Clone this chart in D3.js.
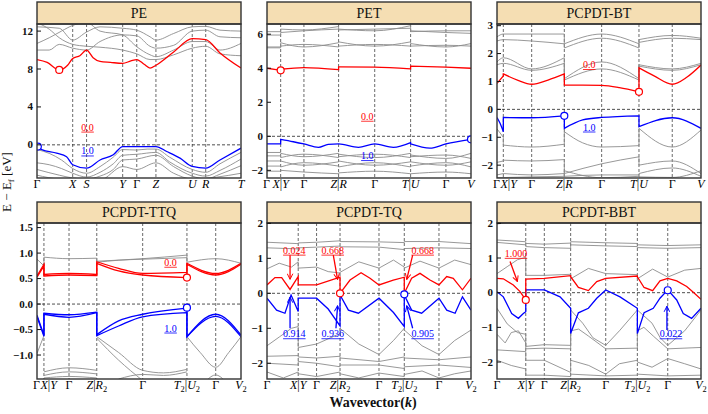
<!DOCTYPE html>
<html><head><meta charset="utf-8">
<script src="https://cdn.jsdelivr.net/npm/d3@7"></script>
<style>body{margin:0;background:#fff}</style>
</head><body><svg id="c" width="708" height="414" xmlns="http://www.w3.org/2000/svg"></svg>
<script>
// ---------------- DATA ----------------
const titles = ["PE","PET","PCPDT-BT","PCPDT-TTQ","PCPDT-TQ","PCPDT-BBT"];

// PE
const peK = [0,0.175,0.243,0.420,0.489,0.583,0.761,0.827,1];
const peKLab = ["Γ","X","S","Y","Γ","Z","U","R","T"];
const peYDom = [-3.5,12.75];
const peYTicks = [0,4,8,12];
const peCB = [[0,9.0],[0.05,8.7],[0.109,7.9],[0.15,8.4],[0.175,9.1],[0.21,9.4],[0.243,10.0],[0.275,9.2],[0.309,8.8],[0.36,8.7],[0.42,8.6],[0.46,8.85],[0.489,9.0],[0.525,8.5],[0.554,8.1],[0.583,8.4],[0.67,9.8],[0.761,11.2],[0.827,11.1],[0.897,9.7],[1,8.1]];
const peVB = [[0,-0.18],[0.023,-0.5],[0.096,-0.88],[0.145,-1.25],[0.175,-2.1],[0.243,-2.46],[0.309,-1.6],[0.374,-1.05],[0.42,-0.18],[0.489,-0.18],[0.583,-0.18],[0.636,-0.7],[0.701,-1.4],[0.761,-2.28],[0.827,-2.46],[0.897,-1.6],[1,-0.35]];
const peGray = [
 [[0,12.45],[0.109,12.3],[0.175,11.05],[0.243,11.9],[0.309,12.45],[0.42,12.3],[0.489,12.1],[0.554,11.4],[0.583,11.05],[0.67,11.75],[0.761,12.45],[0.827,12.5],[0.897,12.1],[1,12.0]],
 [[0,10.7],[0.06,11.3],[0.12,12.0],[0.175,12.6],[0.243,12.9],[0.309,12.0],[0.42,11.6],[0.489,10.35],[0.554,9.5],[0.583,9.3],[0.67,10.0],[0.761,10.9],[0.827,10.9],[0.897,10.0],[1,10.7]],
 [[0,10.0],[0.06,10.0],[0.109,10.6],[0.175,10.2],[0.243,10.0],[0.309,10.9],[0.42,11.6],[0.489,11.5],[0.554,10.4],[0.583,10.2],[0.67,10.5],[0.761,12.0],[0.827,12.1],[0.897,11.4],[1,11.3]],
 [[0,12.9],[0.06,12.2],[0.109,11.3],[0.175,10.6],[0.243,10.4],[0.309,10.3],[0.42,10.0],[0.489,9.6],[0.554,9.0],[0.583,9.0],[0.67,9.5],[0.761,10.2],[0.827,10.4],[0.897,9.6],[1,9.4]],
 [[0,-0.5],[0.06,-0.9],[0.12,-1.6],[0.175,-2.5],[0.243,-3.0],[0.309,-2.3],[0.374,-1.3],[0.42,-0.5],[0.489,-0.55],[0.54,-0.45],[0.583,-0.45],[0.65,-1.3],[0.761,-2.6],[0.827,-2.9],[0.897,-2.0],[1,-0.8]],
 [[0,-1.9],[0.06,-2.1],[0.12,-2.5],[0.175,-3.0],[0.243,-3.4],[0.309,-2.9],[0.374,-2.0],[0.42,-1.1],[0.489,-1.0],[0.583,-0.8],[0.65,-1.8],[0.761,-3.0],[0.827,-3.3],[0.897,-2.7],[1,-1.5]],
 [[0,-2.6],[0.109,-3.2],[0.175,-3.5],[0.243,-3.6],[0.309,-3.3],[0.374,-2.6],[0.42,-1.6],[0.489,-1.5],[0.583,-1.1],[0.67,-2.3],[0.761,-3.3],[0.827,-3.6],[0.897,-3.1],[1,-2.2]],
 [[0,-3.2],[0.109,-3.6],[0.309,-3.7],[0.42,-2.3],[0.489,-2.6],[0.583,-1.9],[0.67,-3.0],[0.761,-3.6],[1,-3.0]]
];
const peCirc = [[0.109,7.9],[0.004,-0.18]];
const peGapLab = [[0.248,1.82],[0.248,-0.7]];

// PET
const petK = [0,0.067,0.181,0.351,0.528,0.704,0.877,1];
const petKLab = ["Γ","X|Y","Γ","Z|R","Γ","T|U","Γ","V"];
const petYDom = [-2.45,6.6];
const petYTicks = [-2,0,2,4,6];
const petCB = [[0,4.0],[0.067,3.88],[0.067,3.94],[0.181,4.04],[0.351,3.92],[0.351,4.08],[0.528,4.06],[0.704,3.96],[0.704,4.12],[0.877,4.06],[1,4.0]];
const petVB = [[0,-0.45],[0.067,-0.45],[0.067,-0.18],[0.129,-0.32],[0.181,-0.45],[0.252,-0.65],[0.30,-0.48],[0.351,-0.45],[0.448,-0.65],[0.528,-0.45],[0.619,-0.65],[0.704,-0.37],[0.704,-0.45],[0.799,-0.7],[0.877,-0.45],[1,-0.18]];
const petGray = [
 [[0,6.15],[0.067,6.15],[0.067,6.3],[0.181,6.25],[0.351,6.45],[0.351,6.3],[0.528,6.2],[0.704,6.5],[0.704,6.2],[0.877,6.1],[1,6.05]],
 [[0,5.95],[0.067,5.95],[0.067,6.1],[0.181,6.2],[0.351,6.3],[0.351,6.25],[0.528,6.3],[0.704,6.35],[0.704,6.15],[0.877,6.2],[1,6.2]],
 [[0,5.25],[0.067,5.25],[0.067,5.5],[0.181,5.25],[0.351,5.5],[0.351,5.55],[0.528,5.3],[0.704,5.55],[0.704,5.45],[0.877,5.25],[1,5.45]],
 [[0,5.2],[0.067,5.2],[0.067,5.3],[0.181,5.4],[0.351,5.25],[0.351,5.3],[0.528,5.4],[0.704,5.3],[0.704,5.3],[0.877,5.35],[1,5.3]],
 [[0,-0.95],[0.067,-0.95],[0.067,-1.0],[0.181,-1.2],[0.351,-1.0],[0.351,-1.05],[0.528,-1.25],[0.704,-1.0],[0.704,-1.1],[0.877,-1.3],[1,-1.0]],
 [[0,-1.15],[0.067,-1.15],[0.067,-1.25],[0.181,-1.05],[0.351,-1.25],[0.351,-1.2],[0.528,-1.05],[0.704,-1.25],[0.704,-1.2],[0.877,-1.1],[1,-1.3]],
 [[0,-1.45],[0.067,-1.45],[0.067,-1.45],[0.181,-1.7],[0.351,-1.5],[0.351,-1.45],[0.528,-1.7],[0.704,-1.5],[0.704,-1.5],[0.877,-1.7],[1,-1.5]],
 [[0,-1.75],[0.067,-1.75],[0.067,-1.8],[0.181,-1.55],[0.351,-1.75],[0.351,-1.8],[0.528,-1.55],[0.704,-1.8],[0.704,-1.75],[0.877,-1.55],[1,-1.8]],
 [[0,-2.05],[0.067,-2.05],[0.067,-2.0],[0.181,-2.1],[0.351,-2.2],[0.351,-2.15],[0.528,-2.05],[0.704,-2.2],[0.704,-2.2],[0.877,-2.1],[1,-2.2]]
];
const petCirc = [[0.067,3.88],[1,-0.18]];
const petGapLab = [[0.492,1.15],[0.492,-1.16]];

// PCPDT-BT
const btK = [0,0.031,0.170,0.330,0.513,0.696,0.859,1];
const btKLab = ["Γ","X|Y","Γ","Z|R","Γ","T|U","Γ","V"];
const btYDom = [-2.46,3.06];
const btYTicks = [-2,-1,0,1,2,3];
const btCB = [[0,0.93],[0.031,1.2],[0.031,1.27],[0.10,1.05],[0.170,0.9],[0.25,1.05],[0.330,1.27],[0.330,0.87],[0.42,0.87],[0.513,0.86],[0.60,0.78],[0.696,0.63],[0.696,1.49],[0.77,1.2],[0.859,0.9],[0.93,1.15],[1,1.59]];
const btVB = [[0,-0.29],[0.015,-0.5],[0.031,-0.8],[0.031,-0.29],[0.170,-0.3],[0.330,-0.23],[0.330,-0.68],[0.42,-0.38],[0.513,-0.29],[0.696,-0.23],[0.696,-0.62],[0.859,-0.3],[1,-0.68]];
const btGray = [
 [[0,2.6],[0.031,2.7],[0.170,2.7],[0.330,2.7],[0.330,2.35],[0.513,2.7],[0.696,2.35],[0.696,2.5],[0.859,2.65],[1,2.55]],
 [[0,2.45],[0.031,2.5],[0.170,2.45],[0.330,2.35],[0.330,2.2],[0.513,2.55],[0.696,2.2],[0.696,2.4],[0.859,2.55],[1,2.5]],
 [[0,1.7],[0.031,1.85],[0.170,1.45],[0.330,1.85],[0.330,1.1],[0.513,1.7],[0.696,1.1],[0.696,1.6],[0.859,1.45],[1,1.65]],
 [[0,1.6],[0.031,1.65],[0.170,1.4],[0.330,1.65],[0.330,1.05],[0.513,1.45],[0.696,1.05],[0.696,1.55],[0.859,1.4],[1,1.6]],
 [[0,-0.7],[0.031,-1.0],[0.031,-1.28],[0.170,-1.35],[0.330,-1.25],[0.330,-0.8],[0.42,-1.2],[0.513,-1.35],[0.696,-1.3],[0.696,-0.68],[0.859,-1.35],[1,-0.74]],
 [[0,-1.9],[0.031,-1.85],[0.031,-1.82],[0.170,-1.85],[0.330,-1.8],[0.330,-2.3],[0.513,-1.95],[0.696,-1.7],[0.696,-2.0],[0.859,-1.85],[1,-2.3]],
 [[0,-2.35],[0.031,-2.3],[0.031,-2.3],[0.170,-2.35],[0.330,-2.3],[0.330,-2.4],[0.513,-2.35],[0.696,-2.35],[0.696,-2.3],[0.859,-2.1],[1,-2.4]],
 [[0,-2.45],[0.170,-2.42],[0.330,-2.4],[0.330,-2.2],[0.513,-2.45],[0.696,-2.4],[0.696,-2.42],[0.859,-2.44],[1,-2.2]]
];
const btCirc = [[0.696,0.63],[0.330,-0.23]];
const btGapLab = [[0.452,1.59],[0.452,-0.65]];

// PCPDT-TTQ
const ttqK = [0,0.034,0.157,0.293,0.518,0.735,0.876,1];
const ttqKLab = ["Γ","X|Y","Γ","Z|R_2","Γ","T_2|U_2","Γ","V_2"];
const ttqYDom = [-1.47,1.59];
const ttqYTicks = [-1.0,-0.5,0.0,0.5,1.0,1.5];
const ttqCB1 = [[0,0.55],[0.034,0.78],[0.034,0.58],[0.157,0.6],[0.293,0.58],[0.293,0.83],[0.40,0.7],[0.518,0.6],[0.735,0.62],[0.735,0.8],[0.876,0.6],[1,0.8]];
const ttqCB2 = [[0,0.53],[0.034,0.75],[0.034,0.55],[0.157,0.57],[0.293,0.56],[0.293,0.80],[0.40,0.65],[0.518,0.57],[0.735,0.52],[0.735,0.78],[0.876,0.57],[1,0.78]];
const ttqVB1 = [[0,-0.22],[0.034,-0.61],[0.034,-0.18],[0.157,-0.21],[0.293,-0.16],[0.293,-0.6],[0.40,-0.33],[0.518,-0.2],[0.735,-0.08],[0.735,-0.64],[0.876,-0.2],[1,-0.61]];
const ttqVB2 = [[0,-0.25],[0.034,-0.63],[0.034,-0.2],[0.157,-0.26],[0.293,-0.17],[0.293,-0.62],[0.40,-0.43],[0.518,-0.25],[0.735,-0.17],[0.735,-0.64],[0.876,-0.24],[1,-0.64]];
const ttqGray = [
 [[0,0.88],[0.034,0.75],[0.034,0.92],[0.157,0.89],[0.293,0.9],[0.293,0.84],[0.518,0.89],[0.735,0.96],[0.735,0.82],[0.876,0.89],[1,0.8]],
 [[0.293,0.82],[0.40,0.86],[0.518,0.88],[0.735,0.91]],
 [[0,-0.97],[0.034,-0.62]],
 [[0.034,-1.33],[0.157,-1.25],[0.293,-1.3]],
 [[0.034,-1.4],[0.157,-1.33],[0.293,-1.37]],
 [[0.034,-1.45],[0.157,-1.42],[0.293,-1.45]],
 [[0.293,-0.64],[0.40,-0.95],[0.518,-1.3],[0.62,-1.35],[0.735,-1.28]],
 [[0.293,-0.67],[0.40,-1.1],[0.518,-1.5]],
 [[0.40,-1.47],[0.518,-1.38],[0.62,-1.4],[0.735,-1.33]],
 [[0.735,-0.64],[0.80,-0.95],[0.876,-1.24],[0.94,-0.95],[1,-0.64]],
 [[0.83,-1.5],[0.876,-1.39],[0.92,-1.5]]
];
const ttqCirc = [[0.735,0.52],[0.735,-0.07]];
const ttqGapLab = [[0.655,0.81],[0.655,-0.48]];

// PCPDT-TQ
const tqK = [0,0.153,0.243,0.358,0.549,0.673,0.843,1];
const tqKLab = ["Γ","X|Y","Γ","Z|R_2","Γ","T_2|U_2","Γ","V_2"];
const tqYDom = [-2.45,2.01];
const tqYTicks = [-2,-1,0,1,2];
const tqCB = [[0,0.24],[0.039,0.45],[0.072,0.45],[0.113,0.11],[0.153,0.48],[0.153,0.24],[0.243,0.24],[0.358,0.46],[0.358,0.0],[0.407,0.38],[0.461,0.59],[0.505,0.43],[0.549,0.24],[0.619,0.38],[0.673,0.46],[0.673,0.0],[0.709,0.43],[0.75,0.57],[0.799,0.38],[0.843,0.24],[0.881,0.48],[0.913,0.43],[0.958,0.1],[1,0.43]];
const tqVB = [[0,-0.14],[0.047,-0.48],[0.088,-0.57],[0.118,-0.05],[0.153,-0.52],[0.153,-0.14],[0.243,-0.14],[0.30,-0.45],[0.358,-0.93],[0.358,-0.05],[0.399,-0.48],[0.448,-0.57],[0.549,-0.14],[0.62,-0.55],[0.673,-0.95],[0.673,-0.05],[0.709,-0.48],[0.758,-0.57],[0.843,-0.14],[0.881,-0.48],[0.922,-0.57],[0.958,-0.1],[1,-0.48]];
const tqGray = [
 [[0,1.46],[0.153,1.42],[0.153,1.44],[0.243,1.46],[0.358,1.5],[0.358,1.48],[0.549,1.47],[0.673,1.45],[0.673,1.48],[0.843,1.48],[1,1.42]],
 [[0,1.3],[0.153,1.27],[0.153,1.3],[0.243,1.32],[0.358,1.35],[0.358,1.33],[0.549,1.32],[0.673,1.25],[0.673,1.28],[0.843,1.3],[1,1.28]],
 [[0,0.7],[0.06,0.86],[0.12,0.75],[0.153,0.9],[0.153,0.72],[0.243,0.75],[0.30,0.62],[0.358,0.58],[0.358,0.6],[0.45,0.9],[0.549,0.72],[0.62,0.95],[0.673,0.75],[0.673,0.72],[0.75,0.92],[0.843,0.72],[0.92,0.95],[1,0.82]],
 [[0,-1.5],[0.06,-1.25],[0.12,-1.0],[0.153,-0.95],[0.153,-1.55],[0.243,-1.45],[0.358,-1.15],[0.358,-1.0],[0.45,-1.45],[0.549,-1.75],[0.62,-1.35],[0.673,-1.0],[0.673,-1.05],[0.76,-1.5],[0.843,-1.75],[0.92,-1.35],[1,-1.05]],
 [[0,-1.8],[0.153,-1.78],[0.153,-1.82],[0.243,-1.85],[0.358,-1.8],[0.358,-1.85],[0.549,-1.95],[0.673,-1.82],[0.673,-1.85],[0.843,-1.9],[1,-1.82]],
 [[0,-2.0],[0.153,-2.05],[0.153,-1.95],[0.243,-2.0],[0.358,-2.1],[0.358,-2.05],[0.549,-2.05],[0.673,-2.15],[0.673,-2.1],[0.843,-2.05],[1,-2.12]],
 [[0,-2.25],[0.08,-2.42],[0.153,-2.25],[0.153,-2.3],[0.243,-2.38],[0.358,-2.25],[0.358,-2.3],[0.45,-2.42],[0.549,-2.28],[0.673,-2.38],[0.673,-2.32],[0.76,-2.22],[0.843,-2.42],[0.92,-2.3],[1,-2.22]]
];
const tqCirc = [[0.358,0.0],[0.673,-0.03]];
const tqNotes = [
 ["0.024","cb",0.134,1.22,0.113,1.09,0.113,0.40],
 ["0.668","cb",0.322,1.22,0.325,1.09,0.346,0.40],
 ["0.668","cb",0.763,1.22,0.714,1.09,0.685,0.40],
 ["0.914","vb",0.134,-1.17,0.113,-1.0,0.113,-0.11],
 ["0.936","vb",0.322,-1.17,0.338,-1.0,0.346,-0.36],
 ["0.905","vb",0.763,-1.17,0.714,-1.0,0.685,-0.36]
];

// PCPDT-BBT
const bbtK = [0,0.141,0.232,0.361,0.533,0.688,0.837,1];
const bbtKLab = ["Γ","X|Y","Γ","Z|R_2","Γ","T_2|U_2","Γ","V_2"];
const bbtYDom = [-2.49,2.01];
const bbtYTicks = [-2,-1,0,1,2];
const bbtCB = [[0,0.41],[0.031,0.40],[0.08,0.22],[0.113,0.03],[0.141,-0.21],[0.141,0.39],[0.232,0.41],[0.361,0.49],[0.361,0.46],[0.399,0.15],[0.448,0.06],[0.489,0.32],[0.533,0.41],[0.688,0.48],[0.688,0.46],[0.721,0.15],[0.763,0.06],[0.799,0.34],[0.837,0.41],[0.881,0.34],[0.93,0.18],[0.965,0.0],[1,-0.19]];
const bbtVB = [[0,0.03],[0.031,-0.12],[0.072,-0.6],[0.105,-0.74],[0.129,-0.6],[0.141,-0.55],[0.141,0.08],[0.232,0.08],[0.309,-0.12],[0.361,-0.45],[0.361,-1.18],[0.399,-0.58],[0.448,-0.45],[0.489,-0.16],[0.533,0.08],[0.603,-0.12],[0.688,-0.45],[0.688,-1.18],[0.721,-0.58],[0.766,-0.45],[0.799,-0.16],[0.837,0.08],[0.881,-0.21],[0.913,-0.6],[0.954,-0.74],[1,-0.45]];
const bbtGray = [
 [[0,1.98],[0.07,2.05],[0.141,1.98]],
 [[0,1.45],[0.141,1.38],[0.141,1.33],[0.232,1.3],[0.361,1.28],[0.361,1.38],[0.533,1.35],[0.688,1.33],[0.688,1.3],[0.837,1.28],[1,1.3]],
 [[0,1.52],[0.141,1.47],[0.141,1.42],[0.232,1.4],[0.361,1.43],[0.361,1.47],[0.533,1.44],[0.688,1.42],[0.688,1.38],[0.837,1.36],[1,1.38]],
 [[0,0.55],[0.05,0.75],[0.10,0.95],[0.141,1.02],[0.141,0.5],[0.232,0.5],[0.361,0.53],[0.361,0.4],[0.448,0.7],[0.533,0.55],[0.688,0.52],[0.688,0.4],[0.763,0.68],[0.837,0.45],[0.92,0.65],[1,0.7]],
 [[0,-0.45],[0.05,-0.9],[0.10,-1.15],[0.141,-1.2],[0.141,-1.55],[0.232,-1.5],[0.361,-1.52],[0.361,-0.5],[0.42,-0.88],[0.47,-1.3],[0.533,-1.52],[0.60,-1.1],[0.688,-0.5],[0.688,-0.5],[0.76,-0.88],[0.80,-1.3],[0.837,-1.52],[0.92,-1.1],[1,-0.5]],
 [[0,-1.2],[0.04,-1.45],[0.07,-1.15],[0.105,-1.1],[0.141,-1.45],[0.141,-1.62],[0.232,-1.6],[0.361,-1.62],[0.361,-1.1],[0.40,-1.05],[0.448,-1.25],[0.533,-1.62],[0.688,-1.6],[0.688,-1.1],[0.72,-1.0],[0.766,-1.25],[0.837,-1.62],[1,-1.58]],
 [[0,-1.65],[0.141,-1.7],[0.141,-1.95],[0.232,-1.95],[0.361,-2.3],[0.361,-1.95],[0.45,-2.1],[0.533,-2.35],[0.60,-2.05],[0.688,-1.95],[0.688,-2.0],[0.76,-2.15],[0.837,-1.9],[0.92,-2.05],[1,-2.2]],
 [[0,-1.95],[0.07,-2.1],[0.141,-2.2],[0.141,-2.38],[0.232,-2.38],[0.361,-2.42],[0.361,-2.35],[0.533,-2.4],[0.688,-2.38],[0.688,-2.35],[0.837,-2.4],[1,-2.38]]
];
const bbtCirc = [[0.141,-0.21],[0.837,0.07]];
const bbtNotes = [
 ["1.000","cb",0.093,1.12,0.064,0.90,0.100,0.32],
 ["0.022","vb",0.853,-1.2,0.833,-1.08,0.833,-0.39]
];

// ---------------- LAYOUT / STYLE ----------------
const SERIF = "'Liberation Serif','DejaVu Serif',serif";
const RED = "#ff0000", BLUE = "#0000ff", GRAY = "#8c8c8c", FRAME = "#333";
const COLS = [37,267,497], PW = 204;
const ROWS = [{hTop:2,pTop:24,pBot:178},{hTop:202,pTop:223,pBot:379}];
const smooth = d3.curveMonotoneX, kinky = d3.curveLinear;

const panels = [
 {col:0,row:0,k:peK,lab:peKLab,dom:peYDom,ticks:peYTicks,fmt:d3.format("d"),gray:peGray,cb:[peCB],vb:[peVB],curve:smooth,circ:peCirc,gap:peGapLab,notes:[]},
 {col:1,row:0,k:petK,lab:petKLab,dom:petYDom,ticks:petYTicks,fmt:d3.format("d"),gray:petGray,cb:[petCB],vb:[petVB],curve:smooth,circ:petCirc,gap:petGapLab,notes:[]},
 {col:2,row:0,k:btK,lab:btKLab,dom:btYDom,ticks:btYTicks,fmt:d3.format("d"),gray:btGray,cb:[btCB],vb:[btVB],curve:smooth,circ:btCirc,gap:btGapLab,notes:[]},
 {col:0,row:1,k:ttqK,lab:ttqKLab,dom:ttqYDom,ticks:ttqYTicks,fmt:d3.format(".1f"),gray:ttqGray,cb:[ttqCB1,ttqCB2],vb:[ttqVB1,ttqVB2],curve:smooth,circ:ttqCirc,gap:ttqGapLab,notes:[]},
 {col:1,row:1,k:tqK,lab:tqKLab,dom:tqYDom,ticks:tqYTicks,fmt:d3.format("d"),gray:tqGray,cb:[tqCB],vb:[tqVB],curve:kinky,circ:tqCirc,gap:null,notes:tqNotes},
 {col:2,row:1,k:bbtK,lab:bbtKLab,dom:bbtYDom,ticks:bbtYTicks,fmt:d3.format("d"),gray:bbtGray,cb:[bbtCB],vb:[bbtVB],curve:kinky,circ:bbtCirc,gap:null,notes:bbtNotes}
];

const svg = d3.select("#c");
const defs = svg.append("defs");
[["cb",RED],["vb",BLUE]].forEach(([id,c])=>{
  defs.append("marker").attr("id","ah-"+id).attr("viewBox","0 0 10 10").attr("refX",9).attr("refY",5)
    .attr("markerWidth",7).attr("markerHeight",7).attr("markerUnits","userSpaceOnUse").attr("orient","auto")
    .append("path").attr("d","M1,1 L9,5 L1,9").attr("fill","none").attr("stroke",c).attr("stroke-width",1.4);
});

function minus(s){return s.replace(/-/g,"\u2212");}

function bandPath(pts,x,y,curve){
  const segs=[]; let cur=[pts[0]];
  for(let j=1;j<pts.length;j++){
    if(pts[j][0]===pts[j-1][0]){segs.push(cur);cur=[pts[j]];} else cur.push(pts[j]);
  }
  segs.push(cur);
  const line=d3.line().x(d=>x(d[0])).y(d=>y(d[1])).curve(curve);
  return segs.map((s,i)=>{const d=line(s.length===1?[s[0],s[0]]:s);return i?d.replace(/^M/,"L"):d;}).join("");
}

function kLabel(sel,str,xp,yp,size,anchor){
  const t=sel.append("text").attr("x",xp).attr("y",yp).attr("text-anchor",anchor||"middle")
    .attr("font-family",SERIF).attr("font-size",size);
  let shift=0;
  for(let j=0;j<str.length;j++){
    const ch=str[j];
    if(ch==="_"){
      t.append("tspan").attr("font-size",size*0.7).attr("dy",3).attr("font-style","normal").text(str[j+1]);
      shift=3; j++; continue;
    }
    const ts=t.append("tspan").text(ch);
    if(shift){ts.attr("dy",-shift);shift=0;}
    if(/[A-Z]/.test(ch)) ts.attr("font-style","italic");
  }
  return t;
}

function underText(sel,str,xp,yp,color,size){
  const t=sel.append("text").attr("x",xp).attr("y",yp).attr("text-anchor","middle")
    .attr("font-family",SERIF).attr("font-size",size).attr("fill",color).text(str);
  const w=t.node().getComputedTextLength();
  sel.append("line").attr("x1",xp-w/2).attr("x2",xp+w/2).attr("y1",yp+1.5).attr("y2",yp+1.5)
    .attr("stroke",color).attr("stroke-width",0.8);
}

panels.forEach((p,i)=>{
  const x0=COLS[p.col], r=ROWS[p.row];
  const x=d3.scaleLinear().domain([0,1]).range([x0,x0+PW]);
  const y=d3.scaleLinear().domain(p.dom).range([r.pBot,r.pTop]);
  const g=svg.append("g");
  defs.append("clipPath").attr("id","clip"+i).append("rect")
    .attr("x",x0).attr("y",r.pTop).attr("width",PW).attr("height",r.pBot-r.pTop);
  const pg=g.append("g").attr("clip-path",`url(#clip${i})`);

  pg.selectAll("line.ks").data(p.k.slice(1,-1)).join("line").attr("class","ks")
    .attr("x1",d=>x(d)).attr("x2",d=>x(d)).attr("y1",r.pTop).attr("y2",r.pBot)
    .attr("stroke","#444").attr("stroke-width",0.8).attr("stroke-dasharray","3,2");
  pg.append("line").attr("x1",x0).attr("x2",x0+PW).attr("y1",y(0)).attr("y2",y(0))
    .attr("stroke","#222").attr("stroke-width",0.8).attr("stroke-dasharray","3,2");

  pg.selectAll("path.gb").data(p.gray).join("path").attr("class","gb")
    .attr("d",d=>bandPath(d,x,y,p.curve)).attr("fill","none").attr("stroke",GRAY).attr("stroke-width",0.9);
  pg.selectAll("path.vb").data(p.vb).join("path").attr("class","vb")
    .attr("d",d=>bandPath(d,x,y,p.curve)).attr("fill","none").attr("stroke",BLUE).attr("stroke-width",1.3);
  pg.selectAll("path.cb").data(p.cb).join("path").attr("class","cb")
    .attr("d",d=>bandPath(d,x,y,p.curve)).attr("fill","none").attr("stroke",RED).attr("stroke-width",1.3);

  pg.append("circle").attr("cx",x(p.circ[0][0])).attr("cy",y(p.circ[0][1])).attr("r",3.5)
    .attr("fill","#fff").attr("stroke",RED).attr("stroke-width",1.2);
  pg.append("circle").attr("cx",x(p.circ[1][0])).attr("cy",y(p.circ[1][1])).attr("r",3.5)
    .attr("fill","#fff").attr("stroke",BLUE).attr("stroke-width",1.2);

  if(p.gap){
    underText(g,"0.0",x(p.gap[0][0]),y(p.gap[0][1])+3,RED,10);
    underText(g,"1.0",x(p.gap[1][0]),y(p.gap[1][1])+3,BLUE,10);
  }
  p.notes.forEach(n=>{
    const c=n[1]==="cb"?RED:BLUE;
    g.append("line").attr("x1",x(n[4])).attr("y1",y(n[5])).attr("x2",x(n[6])).attr("y2",y(n[7]))
      .attr("stroke",c).attr("stroke-width",1.3).attr("marker-end",`url(#ah-${n[1]})`);
    underText(g,n[0],x(n[2]),y(n[3])+3,c,10);
  });

  g.append("rect").attr("x",x0).attr("y",r.hTop).attr("width",PW).attr("height",r.pTop-r.hTop)
    .attr("fill","#f5deb3").attr("stroke",FRAME).attr("stroke-width",1.4);
  g.append("text").attr("x",x0+PW/2).attr("y",(r.hTop+r.pTop)/2+4.5).attr("text-anchor","middle")
    .attr("font-family",SERIF).attr("font-size",14).attr("fill","#111").text(titles[i]);
  g.append("rect").attr("x",x0).attr("y",r.pTop).attr("width",PW).attr("height",r.pBot-r.pTop)
    .attr("fill","none").attr("stroke",FRAME).attr("stroke-width",1.4);

  p.ticks.forEach(t=>{
    g.append("line").attr("x1",x0).attr("x2",x0+4).attr("y1",y(t)).attr("y2",y(t)).attr("stroke","#111").attr("stroke-width",1);
    g.append("text").attr("x",x0-4).attr("y",y(t)+3.5).attr("text-anchor","end")
      .attr("font-family",SERIF).attr("font-weight","bold").attr("font-size",11).attr("fill","#111")
      .text(minus(p.fmt(t)));
  });

  // k labels; keep the first two apart when their ticks are close
  const ly=r.pBot+10, fs=12;
  const close = x(p.k[1])-x(p.k[0]) < 16;
  p.k.forEach((k,j)=>{
    if(close && j===0){ kLabel(g,p.lab[j],x0+3,ly,fs,"end"); return; }
    if(close && j===1){
      const t=kLabel(g,p.lab[j],x(k),ly,fs,"middle");
      const w=t.node().getComputedTextLength();
      if(x(k)-w/2 < x0+3.5){ t.attr("text-anchor","start").attr("x",x0+3.5); }
      return;
    }
    kLabel(g,p.lab[j],x(k),ly,fs,"middle");
  });
});

const yl=svg.append("text").attr("transform","translate(11,182) rotate(-90)").attr("text-anchor","middle")
  .attr("font-family",SERIF).attr("font-size",13).attr("fill","#111");
yl.append("tspan").text("E \u2212 E");
yl.append("tspan").attr("font-size",9).attr("dy",3).text("f");
yl.append("tspan").attr("dy",-3).text(" [eV]");

const xl=svg.append("text").attr("x",373).attr("y",407).attr("text-anchor","middle")
  .attr("font-family",SERIF).attr("font-size",14).attr("font-weight","bold").attr("fill","#111");
xl.append("tspan").text("Wavevector(");
xl.append("tspan").attr("font-style","italic").text("k");
xl.append("tspan").text(")");
</script></body></html>
